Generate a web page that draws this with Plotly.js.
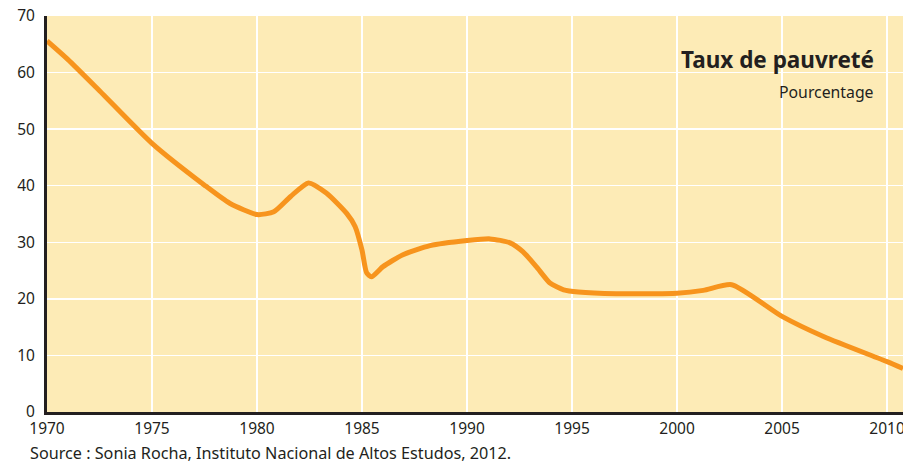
<!DOCTYPE html>
<html>
<head>
<meta charset="utf-8">
<script src="https://cdn.plot.ly/plotly-3.0.1.min.js"></script>
<style>html,body{margin:0;padding:0;background:#fff;}#chart{width:903px;height:466px;}</style>
</head>
<body>
<div id="chart"></div>
<script>
const years = [1970, 1971, 1972.5, 1975, 1977.5, 1978.7, 1980, 1980.8, 1981.6, 1982.45, 1983.3, 1984.27, 1984.67, 1985, 1985.22, 1985.45, 1986, 1986.95, 1988.24, 1990, 1991.1, 1992.05, 1992.67, 1993.3, 1993.95, 1994.6, 1995.3, 1997.1, 2000, 2001.25, 2002.6, 2005, 2007, 2010, 2010.76];
const poverty = [65.6, 62.3, 56.8, 47.5, 40.1, 36.9, 34.9, 35.4, 38.1, 40.5, 38.7, 35.1, 32.8, 28.6, 24.6, 23.9, 25.7, 27.8, 29.4, 30.3, 30.6, 29.9, 28.3, 25.7, 22.8, 21.6, 21.2, 20.9, 21.0, 21.5, 22.5, 16.9, 13.3, 8.9, 7.7];
const xTicks = [1970, 1975, 1980, 1985, 1990, 1995, 2000, 2005, 2010];
const yTicks = [0, 10, 20, 30, 40, 50, 60, 70];
const titleText = "Taux de pauvreté";
const subtitleText = "Pourcentage";
const sourceText = "Source : Sonia Rocha, Instituto Nacional de Altos Estudos, 2012.";

const font = "Noto Sans, sans-serif";
const ink = "#231F20";

Plotly.newPlot("chart", [{
  x: years, y: poverty, type: "scatter", mode: "lines",
  line: {color: "#F7941D", width: 5, shape: "spline", smoothing: 0.6},
  hoverinfo: "skip"
}], {
  width: 903, height: 466,
  margin: {l: 47, r: 0, t: 16, b: 54, pad: 0},
  paper_bgcolor: "#ffffff",
  plot_bgcolor: "#FDEBB6",
  showlegend: false,
  font: {family: font, color: ink, size: 15},
  xaxis: {
    range: [1970, 2010.76], tickvals: xTicks, ticktext: xTicks.map(String),
    showgrid: true, gridcolor: "#ffffff", gridwidth: 1.5,
    showline: true, linecolor: ink, linewidth: 3,
    ticks: "", zeroline: false, fixedrange: true, ticklabeloverflow: "allow",
    tickfont: {family: font, size: 15.5, color: ink}
  },
  yaxis: {
    range: [0, 70], tickvals: yTicks, ticktext: yTicks.map(String),
    showgrid: true, gridcolor: "#ffffff", gridwidth: 1.5,
    showline: true, linecolor: ink, linewidth: 3,
    ticks: "", ticklabelstandoff: 6, zeroline: false, fixedrange: true, ticklabeloverflow: "allow",
    tickfont: {family: font, size: 15.5, color: ink}
  },
  annotations: [
    {text: "<b>" + titleText + "</b>", xref: "paper", yref: "paper", x: 0.969, y: 0.889,
     xanchor: "right", yanchor: "middle", showarrow: false, font: {family: font, size: 22.5, color: ink}},
    {text: subtitleText, xref: "paper", yref: "paper", x: 0.969, y: 0.808,
     xanchor: "right", yanchor: "middle", showarrow: false, font: {family: font, size: 15.8, color: ink}},
    {text: sourceText, xref: "paper", yref: "paper", x: -0.0222, y: -0.1035,
     xanchor: "left", yanchor: "middle", showarrow: false, font: {family: font, size: 16.2, color: ink}}
  ]
}, {displayModeBar: false, staticPlot: true});
</script>
</body>
</html>
